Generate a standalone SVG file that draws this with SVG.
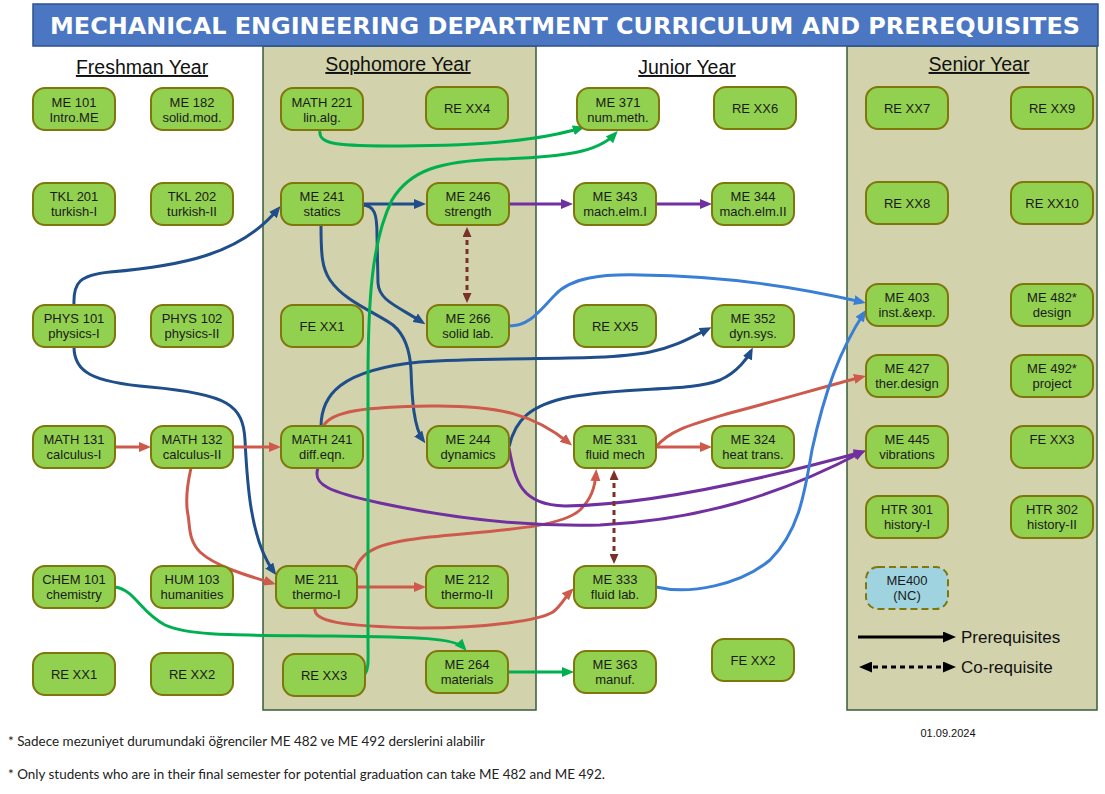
<svg xmlns="http://www.w3.org/2000/svg" width="1105" height="794" viewBox="0 0 1105 794">
<style>
.col{fill:#d2d3ac;stroke:#385d38;stroke-width:1.5}
.n rect{fill:#92d050;stroke:#7f760c;stroke-width:2}
.n.nc rect{fill:#9fd3e0;stroke-dasharray:7,4}
.t{font-family:"Liberation Sans",Arial,sans-serif;font-size:13px;fill:#1a1a1a;text-anchor:middle}
.hd{font-family:"Liberation Sans",Arial,sans-serif;font-size:19.5px;fill:#111;text-anchor:middle;text-decoration:underline}
.c{fill:none;stroke-width:3}
.db{stroke:#1f4e8a;marker-end:url(#m-db)}
.rd{stroke:#cd5a4c;marker-end:url(#m-rd)}
.pu{stroke:#7030a0;marker-end:url(#m-pu)}
.gr{stroke:#00b050;marker-end:url(#m-gr)}
.lb{stroke:#3a7fd6;marker-end:url(#m-lb)}
.dr{stroke:#7b302a;stroke-dasharray:5,4;marker-start:url(#m-dr);marker-end:url(#m-dr)}
.leg{font-family:"Liberation Sans",Arial,sans-serif;font-size:17px;fill:#111}
.fn{font-family:Lato,"Liberation Sans",sans-serif;font-size:14px;fill:#222}
</style>
<defs>
<marker id="m-db" viewBox="0 0 12 10" refX="8" refY="5" markerWidth="12" markerHeight="10" markerUnits="userSpaceOnUse" orient="auto"><path d="M0,0 L12,5 L0,10 z" fill="#1f4e8a"/></marker>
<marker id="m-rd" viewBox="0 0 12 10" refX="8" refY="5" markerWidth="12" markerHeight="10" markerUnits="userSpaceOnUse" orient="auto"><path d="M0,0 L12,5 L0,10 z" fill="#cd5a4c"/></marker>
<marker id="m-pu" viewBox="0 0 12 10" refX="8" refY="5" markerWidth="12" markerHeight="10" markerUnits="userSpaceOnUse" orient="auto"><path d="M0,0 L12,5 L0,10 z" fill="#7030a0"/></marker>
<marker id="m-gr" viewBox="0 0 12 10" refX="8" refY="5" markerWidth="12" markerHeight="10" markerUnits="userSpaceOnUse" orient="auto"><path d="M0,0 L12,5 L0,10 z" fill="#00b050"/></marker>
<marker id="m-lb" viewBox="0 0 12 10" refX="8" refY="5" markerWidth="12" markerHeight="10" markerUnits="userSpaceOnUse" orient="auto"><path d="M0,0 L12,5 L0,10 z" fill="#3a7fd6"/></marker>
<marker id="m-dr" viewBox="0 0 10 9" refX="6" refY="4.5" markerWidth="10" markerHeight="9" markerUnits="userSpaceOnUse" orient="auto-start-reverse"><path d="M0,0 L10,4.5 L0,9 z" fill="#7b302a"/></marker>
<marker id="m-bk" viewBox="0 0 13 11" refX="8" refY="5.5" markerWidth="13" markerHeight="11" markerUnits="userSpaceOnUse" orient="auto-start-reverse"><path d="M0,0 L13,5.5 L0,11 z" fill="#000"/></marker>
</defs>
<rect width="1105" height="794" fill="#fff"/>
<g id="columns">
<rect class="col" x="263" y="46" width="273" height="664"/>
<rect class="col" x="847" y="46" width="250" height="664"/>
</g>
<g id="title">
<rect x="33" y="4" width="1065" height="42" fill="#4a76c2" stroke="#2f528f" stroke-width="1.5"/>
<text x="565" y="34" font-family="DejaVu Sans,Verdana,sans-serif" font-weight="bold" font-size="23" fill="#fff" text-anchor="middle" textLength="1030" lengthAdjust="spacingAndGlyphs">MECHANICAL ENGINEERING DEPARTMENT CURRICULUM AND PREREQUISITES</text>
</g>
<g id="headers">
<text class="hd" x="142" y="74">Freshman Year</text>
<text class="hd" x="398" y="71">Sophomore Year</text>
<text class="hd" x="687" y="74">Junior Year</text>
<text class="hd" x="979" y="71">Senior Year</text>
</g>
<g id="connectors">
<path class="c db" d="M74,305 C73,282 80,275 110,272 C180,266 240,255 278,209"/>
<path class="c db" d="M74,347 C74,372 92,382 150,387 C228,394 243,405 245,440 C247,480 250,540 274,572"/>
<path class="c db" d="M362,204 L422,204"/>
<path class="c db" d="M362,205 C375,205 377,215 377,235 L378,283 C379,300 395,305 422,322"/>
<path class="c db" d="M321,225 C321,255 322,268 330,280 C345,302 375,312 393,325 C405,335 410,350 411,370 C412,400 414,428 423,440"/>
<path class="c db" d="M321,427 C321,395 340,370 420,362 C500,356 600,362 650,352 C675,347 690,338 708,329"/>
<path class="c db" d="M509,447 C515,420 530,405 570,397 C630,386 690,392 720,380 C738,372 748,357 751,351"/>
<path class="c rd" d="M115,447 L147,447"/>
<path class="c rd" d="M233,447 L277,447"/>
<path class="c rd" d="M191,468 C186,490 186,505 188,515 C190,525 188,540 200,552 C215,566 245,575 272,583"/>
<path class="c rd" d="M323,427 C330,410 370,407 430,406 C500,405 535,415 569,443"/>
<path class="c rd" d="M355,570 C362,548 385,542 430,537 C500,530 560,528 580,510 C591,499 595,488 596,473"/>
<path class="c rd" d="M357,587 L422,587"/>
<path class="c rd" d="M315,607 C312,622 340,626 420,628 C490,628 540,620 553,612 C562,605 565,597 571,591"/>
<path class="c rd" d="M656,447 L708,447"/>
<path class="c rd" d="M656,447 C670,430 690,425 730,413 C780,400 830,385 862,377"/>
<path class="c pu" d="M509,204 L569,204"/>
<path class="c pu" d="M656,204 L708,204"/>
<path class="c pu" d="M318,468 C312,485 330,492 380,503 C450,518 520,527 600,525 C700,520 780,495 862,452"/>
<path class="c pu" d="M509,448 C515,480 520,505 565,506 C650,505 760,480 862,452"/>
<path class="c gr" d="M320,131 C318,145 340,146 400,146 C470,146 535,142 581,128"/>
<path class="c gr" d="M365,674 C369,668 368,660 368,640 L368,380 C368,300 372,240 392,200 C410,170 440,161 500,159 C565,157 598,152 615,134"/>
<path class="c gr" d="M115,587 C135,590 140,612 165,625 C190,636 230,635 330,636 C420,637 455,638 464,648"/>
<path class="c gr" d="M507,672 L570,672"/>
<path class="c lb" d="M509,326 C530,326 540,310 555,295 C570,278 600,274 640,275 C730,276 800,288 862,302"/>
<path class="c lb" d="M656,587 C690,595 740,585 770,560 C800,530 805,490 812,450 C825,390 840,350 864,313"/>
<path class="c dr" d="M467,231 L467,299"/>
<path class="c dr" d="M614,474 L614,560"/>
</g>
<g id="n-me101" class="n"><rect x="33" y="88" width="82" height="42" rx="12"/><text class="t" x="74" y="106.5">ME 101<tspan x="74" y="121.5">Intro.ME</tspan></text></g>
<g id="n-me182" class="n"><rect x="151" y="88" width="82" height="42" rx="12"/><text class="t" x="192" y="106.5">ME 182<tspan x="192" y="121.5">solid.mod.</tspan></text></g>
<g id="n-math221" class="n"><rect x="281" y="88" width="82" height="42" rx="12"/><text class="t" x="322" y="106.5">MATH 221<tspan x="322" y="121.5">lin.alg.</tspan></text></g>
<g id="n-rexx4" class="n"><rect x="426" y="87" width="82" height="42" rx="12"/><text class="t" x="467" y="112.5">RE XX4</text></g>
<g id="n-me371" class="n"><rect x="577" y="88" width="82" height="42" rx="12"/><text class="t" x="618" y="106.5">ME 371<tspan x="618" y="121.5">num.meth.</tspan></text></g>
<g id="n-rexx6" class="n"><rect x="714" y="87" width="82" height="42" rx="12"/><text class="t" x="755" y="112.5">RE XX6</text></g>
<g id="n-rexx7" class="n"><rect x="866" y="87" width="82" height="42" rx="12"/><text class="t" x="907" y="112.5">RE XX7</text></g>
<g id="n-rexx9" class="n"><rect x="1011" y="87" width="82" height="42" rx="12"/><text class="t" x="1052" y="112.5">RE XX9</text></g>
<g id="n-tkl201" class="n"><rect x="33" y="183" width="82" height="42" rx="12"/><text class="t" x="74" y="201">TKL 201<tspan x="74" y="216">turkish-I</tspan></text></g>
<g id="n-tkl202" class="n"><rect x="151" y="183" width="82" height="42" rx="12"/><text class="t" x="192" y="201">TKL 202<tspan x="192" y="216">turkish-II</tspan></text></g>
<g id="n-me241" class="n"><rect x="281" y="183" width="82" height="42" rx="12"/><text class="t" x="322" y="201">ME 241<tspan x="322" y="216">statics</tspan></text></g>
<g id="n-me246" class="n"><rect x="427" y="183" width="82" height="42" rx="12"/><text class="t" x="468" y="201">ME 246<tspan x="468" y="216">strength</tspan></text></g>
<g id="n-me343" class="n"><rect x="574" y="183" width="82" height="42" rx="12"/><text class="t" x="615" y="201">ME 343<tspan x="615" y="216">mach.elm.I</tspan></text></g>
<g id="n-me344" class="n"><rect x="712" y="183" width="82" height="42" rx="12"/><text class="t" x="753" y="201">ME 344<tspan x="753" y="216">mach.elm.II</tspan></text></g>
<g id="n-rexx8" class="n"><rect x="866" y="182" width="82" height="42" rx="12"/><text class="t" x="907" y="207.5">RE XX8</text></g>
<g id="n-rexx10" class="n"><rect x="1011" y="182" width="82" height="42" rx="12"/><text class="t" x="1052" y="207.5">RE XX10</text></g>
<g id="n-phys101" class="n"><rect x="33" y="305" width="82" height="42" rx="12"/><text class="t" x="74" y="323">PHYS 101<tspan x="74" y="338">physics-I</tspan></text></g>
<g id="n-phys102" class="n"><rect x="151" y="305" width="82" height="42" rx="12"/><text class="t" x="192" y="323">PHYS 102<tspan x="192" y="338">physics-II</tspan></text></g>
<g id="n-fexx1" class="n"><rect x="281" y="305" width="82" height="42" rx="12"/><text class="t" x="322" y="330.5">FE XX1</text></g>
<g id="n-me266" class="n"><rect x="427" y="305" width="82" height="42" rx="12"/><text class="t" x="468" y="323">ME 266<tspan x="468" y="338">solid lab.</tspan></text></g>
<g id="n-rexx5" class="n"><rect x="574" y="305" width="82" height="42" rx="12"/><text class="t" x="615" y="330.5">RE XX5</text></g>
<g id="n-me352" class="n"><rect x="712" y="305" width="82" height="42" rx="12"/><text class="t" x="753" y="323">ME 352<tspan x="753" y="338">dyn.sys.</tspan></text></g>
<g id="n-me403" class="n"><rect x="866" y="284" width="82" height="42" rx="12"/><text class="t" x="907" y="302">ME 403<tspan x="907" y="317">inst.&amp;exp.</tspan></text></g>
<g id="n-me482" class="n"><rect x="1011" y="284" width="82" height="42" rx="12"/><text class="t" x="1052" y="302">ME 482*<tspan x="1052" y="317">design</tspan></text></g>
<g id="n-me427" class="n"><rect x="866" y="355" width="82" height="42" rx="12"/><text class="t" x="907" y="373">ME 427<tspan x="907" y="388">ther.design</tspan></text></g>
<g id="n-me492" class="n"><rect x="1011" y="355" width="82" height="42" rx="12"/><text class="t" x="1052" y="373">ME 492*<tspan x="1052" y="388">project</tspan></text></g>
<g id="n-math131" class="n"><rect x="33" y="426" width="82" height="42" rx="12"/><text class="t" x="74" y="444">MATH 131<tspan x="74" y="459">calculus-I</tspan></text></g>
<g id="n-math132" class="n"><rect x="151" y="426" width="82" height="42" rx="12"/><text class="t" x="192" y="444">MATH 132<tspan x="192" y="459">calculus-II</tspan></text></g>
<g id="n-math241" class="n"><rect x="281" y="426" width="82" height="42" rx="12"/><text class="t" x="322" y="444">MATH 241<tspan x="322" y="459">diff.eqn.</tspan></text></g>
<g id="n-me244" class="n"><rect x="427" y="426" width="82" height="42" rx="12"/><text class="t" x="468" y="444">ME 244<tspan x="468" y="459">dynamics</tspan></text></g>
<g id="n-me331" class="n"><rect x="574" y="426" width="82" height="42" rx="12"/><text class="t" x="615" y="444">ME 331<tspan x="615" y="459">fluid mech</tspan></text></g>
<g id="n-me324" class="n"><rect x="712" y="426" width="82" height="42" rx="12"/><text class="t" x="753" y="444">ME 324<tspan x="753" y="459">heat trans.</tspan></text></g>
<g id="n-me445" class="n"><rect x="866" y="426" width="82" height="42" rx="12"/><text class="t" x="907" y="444">ME 445<tspan x="907" y="459">vibrations</tspan></text></g>
<g id="n-fexx3" class="n"><rect x="1011" y="426" width="82" height="42" rx="12"/><text class="t" x="1052" y="444">FE XX3</text></g>
<g id="n-htr301" class="n"><rect x="866" y="496" width="82" height="42" rx="12"/><text class="t" x="907" y="514">HTR 301<tspan x="907" y="529">history-I</tspan></text></g>
<g id="n-htr302" class="n"><rect x="1011" y="496" width="82" height="42" rx="12"/><text class="t" x="1052" y="514">HTR 302<tspan x="1052" y="529">history-II</tspan></text></g>
<g id="n-chem101" class="n"><rect x="33" y="566" width="82" height="42" rx="12"/><text class="t" x="74" y="584">CHEM 101<tspan x="74" y="599">chemistry</tspan></text></g>
<g id="n-hum103" class="n"><rect x="151" y="566" width="82" height="42" rx="12"/><text class="t" x="192" y="584">HUM 103<tspan x="192" y="599">humanities</tspan></text></g>
<g id="n-me211" class="n"><rect x="276" y="566" width="81" height="42" rx="12"/><text class="t" x="316.5" y="584">ME 211<tspan x="316.5" y="599">thermo-I</tspan></text></g>
<g id="n-me212" class="n"><rect x="426" y="566" width="82" height="42" rx="12"/><text class="t" x="467" y="584">ME 212<tspan x="467" y="599">thermo-II</tspan></text></g>
<g id="n-me333" class="n"><rect x="574" y="566" width="82" height="42" rx="12"/><text class="t" x="615" y="584">ME 333<tspan x="615" y="599">fluid lab.</tspan></text></g>
<g id="n-me400" class="n nc"><rect x="866" y="567" width="82" height="42" rx="12"/><text class="t" x="907" y="585">ME400<tspan x="907" y="600">(NC)</tspan></text></g>
<g id="n-rexx1" class="n"><rect x="33" y="653" width="82" height="42" rx="12"/><text class="t" x="74" y="678.5">RE XX1</text></g>
<g id="n-rexx2" class="n"><rect x="151" y="653" width="82" height="42" rx="12"/><text class="t" x="192" y="678.5">RE XX2</text></g>
<g id="n-rexx3" class="n"><rect x="283" y="654" width="82" height="42" rx="12"/><text class="t" x="324" y="679.5">RE XX3</text></g>
<g id="n-me264" class="n"><rect x="426" y="651" width="82" height="42" rx="12"/><text class="t" x="467" y="669">ME 264<tspan x="467" y="684">materials</tspan></text></g>
<g id="n-me363" class="n"><rect x="574" y="651" width="82" height="42" rx="12"/><text class="t" x="615" y="669">ME 363<tspan x="615" y="684">manuf.</tspan></text></g>
<g id="n-fexx2" class="n"><rect x="712" y="639" width="82" height="42" rx="12"/><text class="t" x="753" y="664.5">FE XX2</text></g>
<g id="legend">
<path d="M858,637 L951,637" stroke="#000" stroke-width="3" fill="none" marker-end="url(#m-bk)"/>
<path d="M864,667 L951,667" stroke="#000" stroke-width="3" stroke-dasharray="5,4" fill="none" marker-start="url(#m-bk)" marker-end="url(#m-bk)"/>
<text class="leg" x="961" y="643">Prerequisites</text>
<text class="leg" x="961" y="673">Co-requisite</text>
</g>
<g id="notes">
<text x="948" y="737" font-family="Liberation Sans,Arial,sans-serif" font-size="11" fill="#111" text-anchor="middle">01.09.2024</text>
<text class="fn" x="8" y="746" textLength="477" lengthAdjust="spacingAndGlyphs">* Sadece mezuniyet durumundaki öğrenciler ME 482 ve ME 492 derslerini alabilir</text>
<text class="fn" x="8" y="779" textLength="597" lengthAdjust="spacingAndGlyphs">* Only students who are in their final semester for potential graduation can take ME 482 and ME 492.</text>
</g>
</svg>
